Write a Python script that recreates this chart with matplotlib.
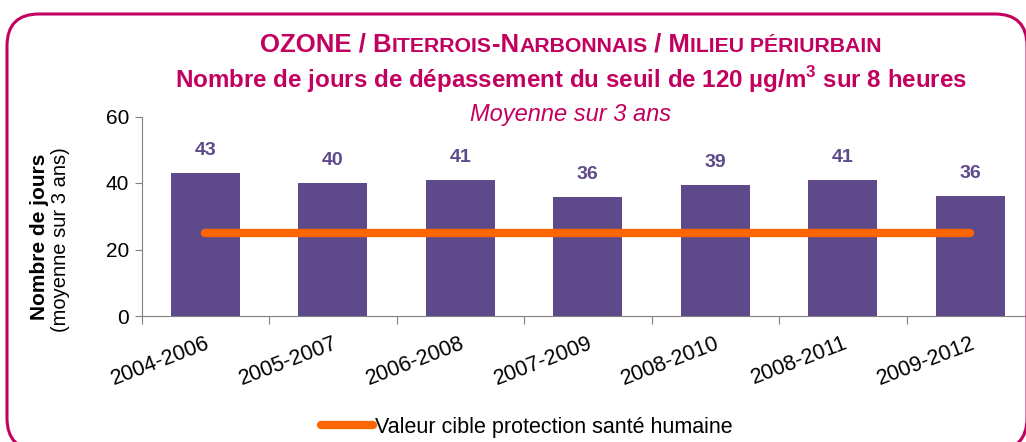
import matplotlib.pyplot as plt
from matplotlib.patches import FancyBboxPatch

plt.rcParams['font.family'] = ['Liberation Sans', 'DejaVu Sans']

periods = ['2004-2006', '2005-2007', '2006-2008', '2007-2009',
           '2008-2010', '2008-2011', '2009-2012']
days = [43, 40, 41, 35.7, 39.3, 41, 36]
day_labels = ['43', '40', '41', '36', '39', '41', '36']
target = [25] * len(periods)

bar_color = '#5E4A8B'
orange = '#FF6600'
magenta = '#C2005F'

fig = plt.figure(figsize=(10.26, 4.42), dpi=100)
W, H = 1026, 442

# rounded frame, drawn in pixels (bottom and right run off the picture)
frame = FancyBboxPatch((7, -8), 1020, H - 14 + 8,
                       boxstyle='round,pad=0,rounding_size=32',
                       transform=None, fill=False,
                       edgecolor=magenta, linewidth=2.2)
fig.patches.append(frame)

ax = fig.add_axes([141.5 / W, 1 - 316 / H, 892.5 / W, 199.5 / H])
x = list(range(len(periods)))
ax.bar(x, days, width=0.54, color=bar_color, zorder=2)
ax.plot(x, target, color=orange, linewidth=6, solid_capstyle='round', zorder=3,
        label='Valeur cible protection santé humaine')
for xi, v, lab in zip(x, days, day_labels):
    ax.annotate(lab, (xi, v), xytext=(0, 10), textcoords='offset points',
                ha='center', va='bottom', fontsize=14, fontweight='bold',
                color=bar_color)

ax.set_xlim(-0.5, 6.5)
ax.set_ylim(0, 60)
ax.set_yticks([0, 20, 40, 60])
ax.set_xticks([i - 0.5 for i in range(8)])
ax.set_xticklabels([])
ax.set_xticks(x, minor=True)
ax.set_xticklabels(periods, minor=True, rotation=21, ha='right',
                   rotation_mode='anchor', fontsize=15.5)
ax.tick_params(axis='x', which='minor', length=0, pad=12)
ax.tick_params(axis='x', which='major', length=6, color='#808080')
ax.tick_params(axis='y', length=5, color='#808080', labelsize=15, pad=4)
ax.spines['top'].set_visible(False)
ax.spines['right'].set_visible(False)
ax.spines['left'].set_color('#808080')
ax.spines['bottom'].set_color('#808080')

# y label: bold line + regular line
fig.text(40 / W, 1 - 237 / H, 'Nombre de jours', rotation=90, ha='center',
         va='center', fontsize=15, fontweight='bold')
fig.text(60 / W, 1 - 240 / H, '(moyenne sur 3 ans)', rotation=90, ha='center',
         va='center', fontsize=14.5)

# titles (small caps emulated)
title_parts = [('OZONE / B', 18.5), ('ITERROIS', 15.3), ('-N', 18.5), ('ARBONNAIS', 15.3),
               (' / M', 18.5), ('ILIEU PÉRIURBAIN', 15.3)]
fig.canvas.draw()
r = fig.canvas.get_renderer()
texts = []
for s, fs in title_parts:
    t = fig.text(0, 1 - 52 / H, s, fontsize=fs, fontweight='bold', color=magenta,
                 ha='left', va='baseline')
    texts.append(t)
widths = [t.get_window_extent(r).width for t in texts]
xpos = 571 - sum(widths) / 2
for t, w in zip(texts, widths):
    t.set_x(xpos / W)
    xpos += w

fig.text(571 / W, 1 - 80 / H,
         'Nombre de jours de dépassement du seuil de 120 µg/m$^\\mathregular{3}$ sur 8 heures',
         ha='center', va='center', fontsize=17.4, fontweight='bold', color=magenta)
fig.text(571 / W, 1 - 115 / H, 'Moyenne sur 3 ans', ha='center', va='center',
         fontsize=17, style='italic', color=magenta)

fig.legend(loc='center', bbox_to_anchor=(527 / W, 1 - 427 / H), frameon=False,
           fontsize=15.5, handlelength=2.4, handletextpad=0.1)

fig.savefig('out.png', dpi=100)
